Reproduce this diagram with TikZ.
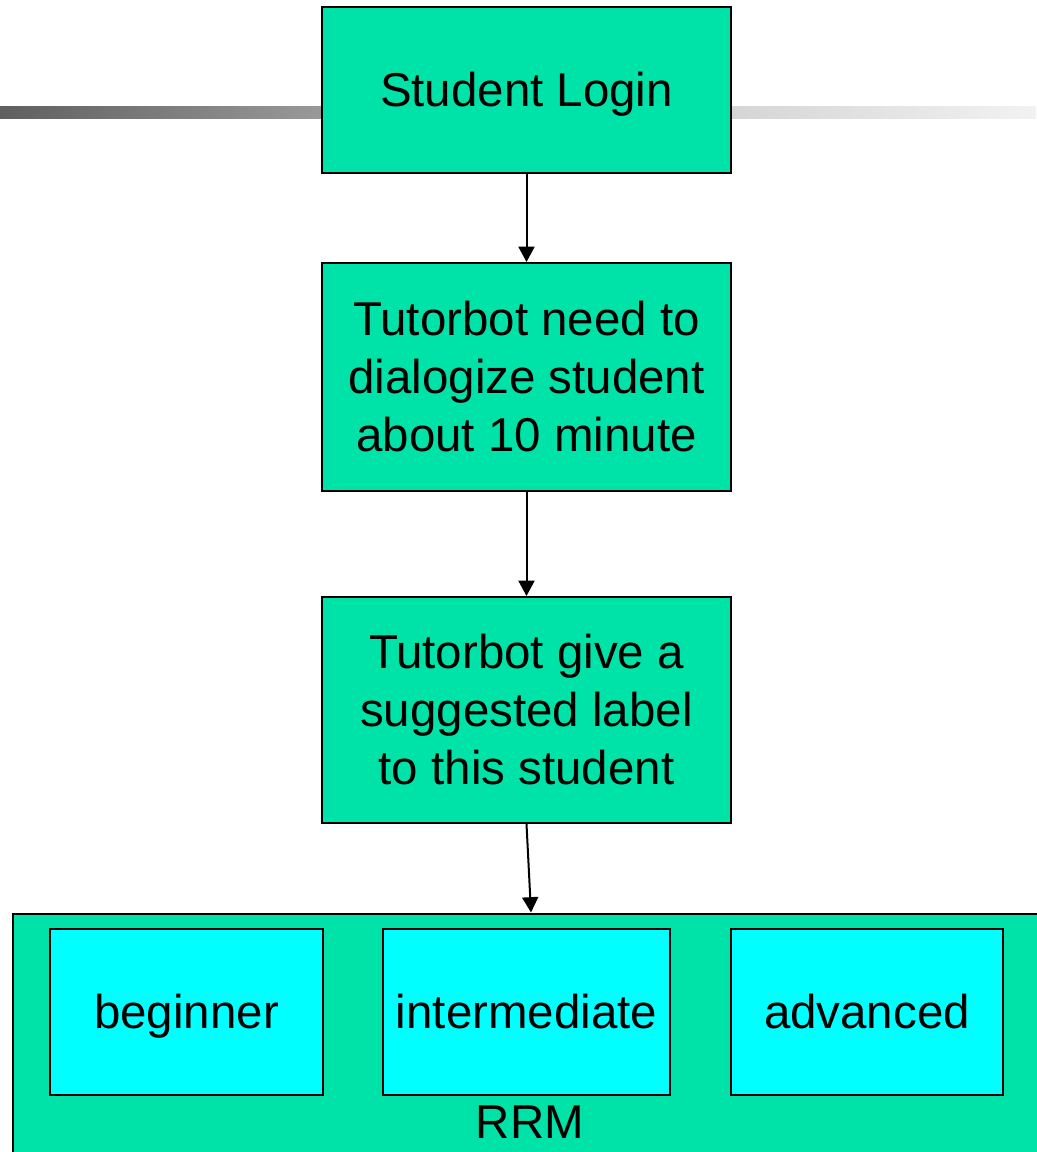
\documentclass[tikz,border=0pt]{standalone}
\usepackage{fontspec}
\setmainfont{Liberation Sans}
\usetikzlibrary{arrows.meta}
\definecolor{boxgreen}{RGB}{0,227,168}
\definecolor{boxcyan}{RGB}{0,255,255}
\definecolor{barA}{RGB}{95,95,95}
\definecolor{barB}{RGB}{153,153,153}
\definecolor{barC}{RGB}{213,213,213}
\definecolor{barD}{RGB}{242,242,242}
\tikzset{
  flowbox/.style={draw=black, line width=1.5pt, fill=boxgreen, inner sep=0pt,
    minimum width=306.75pt, align=center,
    font=\fontsize{35.6}{43.5}\selectfont},
  oneline/.style={text height=24.6pt, text depth=0pt},
  levelbox/.style={draw=black, line width=1.1pt, fill=boxcyan, inner sep=0pt,
    minimum height=124.5pt, oneline, font=\fontsize{35.6}{43.5}\selectfont},
  flowarrow/.style={line width=1.5pt, -{Triangle[length=11.5pt,width=12pt]}},
}
\begin{document}
\begin{tikzpicture}[x=0.75pt,y=-0.75pt]
\useasboundingbox (0,0) rectangle (1036,1152);
% gradient bar
\shade[left color=barA, right color=barB] (0,107) rectangle (322,119);
\shade[left color=barC, right color=barD] (731,107) rectangle (1036,119);
% flow boxes
\node[flowbox, oneline, minimum height=124.5pt] (login) at (526.5,90) {Student Login};
\node[flowbox, minimum height=171pt] (dialog) at (526.5,377) {Tutorbot need to\\dialogize student\\about 10 minute};
\node[flowbox, minimum height=169.5pt] (label) at (526.5,710) {Tutorbot give a\\suggested label\\to this student};
% RRM container
\node[draw=black, line width=1.5pt, fill=boxgreen, minimum width=777pt, minimum height=183pt, inner sep=0pt] (rrm) at (531,1035.5) {};
\node[font=\fontsize{35.6}{43.5}\selectfont, anchor=base] (rrmtext) at (530,1138) {RRM};
\node[levelbox, minimum width=204.75pt] (beg) at (186.5,1012) {beginner};
\node[levelbox, minimum width=215.25pt] (inter) at (526.5,1012) {intermediate};
\node[levelbox, minimum width=204pt] (adv) at (867,1012) {advanced};
% arrows
\draw[flowarrow] (login.south) -- (dialog.north);
\draw[flowarrow] (dialog.south) -- (label.north);
\draw[flowarrow] (label.south) -- (rrm.north);
\end{tikzpicture}
\end{document}
